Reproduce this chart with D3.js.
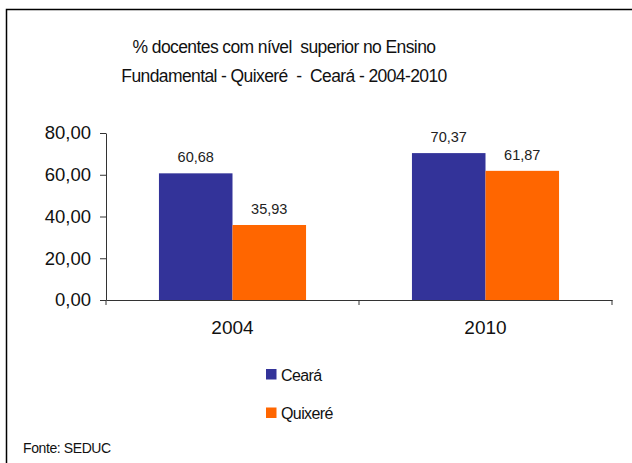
<!DOCTYPE html>
<html>
<head>
<meta charset="utf-8">
<script src="https://cdn.jsdelivr.net/npm/d3@7"></script>
<style>
  html, body { margin: 0; padding: 0; background: #fff; }
  svg { display: block; font-family: "Liberation Sans", Arial, sans-serif; }
  .pre { white-space: pre; }
</style>
</head>
<body>
<svg id="chart" width="632" height="463"></svg>
<script>
const titleLines = ["% docentes com nível  superior no Ensino", "Fundamental - Quixeré  -  Ceará - 2004-2010"];
const categories = ["2004", "2010"];
const seriesNames = ["Ceará", "Quixeré"];
const cearaValues = [60.68, 70.37];
const quixereValues = [35.93, 61.87];
const valueLabels = [["60,68", "70,37"], ["35,93", "61,87"]];
const yTicks = [0, 20, 40, 60, 80];
const yTickLabels = ["0,00", "20,00", "40,00", "60,00", "80,00"];
const colors = ["#333399", "#FF6600"];
const sourceText = "Fonte: SEDUC";

const seriesValues = [cearaValues, quixereValues];
const svg = d3.select("#chart");

// frame (top and left edges visible)
svg.append("path").attr("d", "M6.5,463 L6.5,9.5 L632,9.5")
  .attr("fill", "none").attr("stroke", "#000").attr("stroke-width", 1.5);

// title
svg.append("g").selectAll("text").data(titleLines).join("text")
  .attr("class", "pre")
  .attr("x", 284).attr("y", (d, i) => 53 + i * 29)
  .attr("text-anchor", "middle").attr("font-size", 17.5).attr("letter-spacing", -0.6)
  .attr("fill", "#111").text(d => d);

const x0 = d3.scaleBand().domain(categories).range([106, 612]).paddingInner(0).paddingOuter(0);
const x1 = d3.scaleBand().domain(seriesNames).range([0, x0.bandwidth()]).paddingInner(0).paddingOuter(0.72);
const y = d3.scaleLinear().domain([0, 80]).range([300, 133]);

// bars
const groups = svg.append("g").selectAll("g").data(categories).join("g")
  .attr("transform", c => `translate(${x0(c)},0)`);
groups.selectAll("rect").data((c, ci) => seriesNames.map((s, si) => ({ s, si, v: seriesValues[si][ci], lbl: valueLabels[si][ci] })))
  .join("rect")
  .attr("x", d => x1(d.s)).attr("width", x1.bandwidth())
  .attr("y", d => y(d.v)).attr("height", d => y(0) - y(d.v))
  .attr("fill", d => colors[d.si]);
groups.selectAll("text").data((c, ci) => seriesNames.map((s, si) => ({ s, si, v: seriesValues[si][ci], lbl: valueLabels[si][ci] })))
  .join("text")
  .attr("x", d => x1(d.s) + x1.bandwidth() / 2).attr("y", d => y(d.v) - 11)
  .attr("text-anchor", "middle").attr("font-size", 14.5).attr("fill", "#222")
  .text(d => d.lbl);

// y axis
const yAxis = d3.axisLeft(y).tickValues(yTicks).tickFormat((d, i) => yTickLabels[i]).tickSize(6).tickSizeOuter(0).tickPadding(9);
const gy = svg.append("g").attr("transform", "translate(106,0)").call(yAxis);
gy.selectAll("text").attr("font-size", 18.5).attr("fill", "#111").attr("font-family", "Liberation Sans, Arial, sans-serif");
gy.selectAll("line, path").attr("stroke", "#333");

// x axis
const xAxis = d3.axisBottom(x0).tickSize(0).tickSizeOuter(0).tickPadding(21);
const gx = svg.append("g").attr("transform", "translate(0,300)").call(xAxis);
gx.selectAll("text").attr("font-size", 19).attr("fill", "#111").attr("font-family", "Liberation Sans, Arial, sans-serif");
gx.select("path.domain").attr("stroke", "#333");
// category boundary ticks
const bounds = categories.map(c => x0(c)).concat([x0(categories[categories.length - 1]) + x0.bandwidth()]);
gx.selectAll("line.bound").data(bounds).join("line").attr("class", "bound")
  .attr("x1", d => d).attr("x2", d => d).attr("y1", 0).attr("y2", 5).attr("stroke", "#333");

// legend
const leg = svg.append("g").selectAll("g").data(seriesNames).join("g")
  .attr("transform", (d, i) => `translate(266,${369 + i * 38.5})`);
leg.append("rect").attr("width", 10.5).attr("height", 10.5).attr("fill", (d, i) => colors[i]);
leg.append("text").attr("x", 15).attr("y", 11.5).attr("font-size", 16).attr("letter-spacing", -0.6)
  .attr("fill", "#111").text(d => d);

// source
svg.append("text").attr("x", 23).attr("y", 452.5).attr("font-size", 14).attr("letter-spacing", -0.4)
  .attr("fill", "#111").text(sourceText);
</script>
</body>
</html>
